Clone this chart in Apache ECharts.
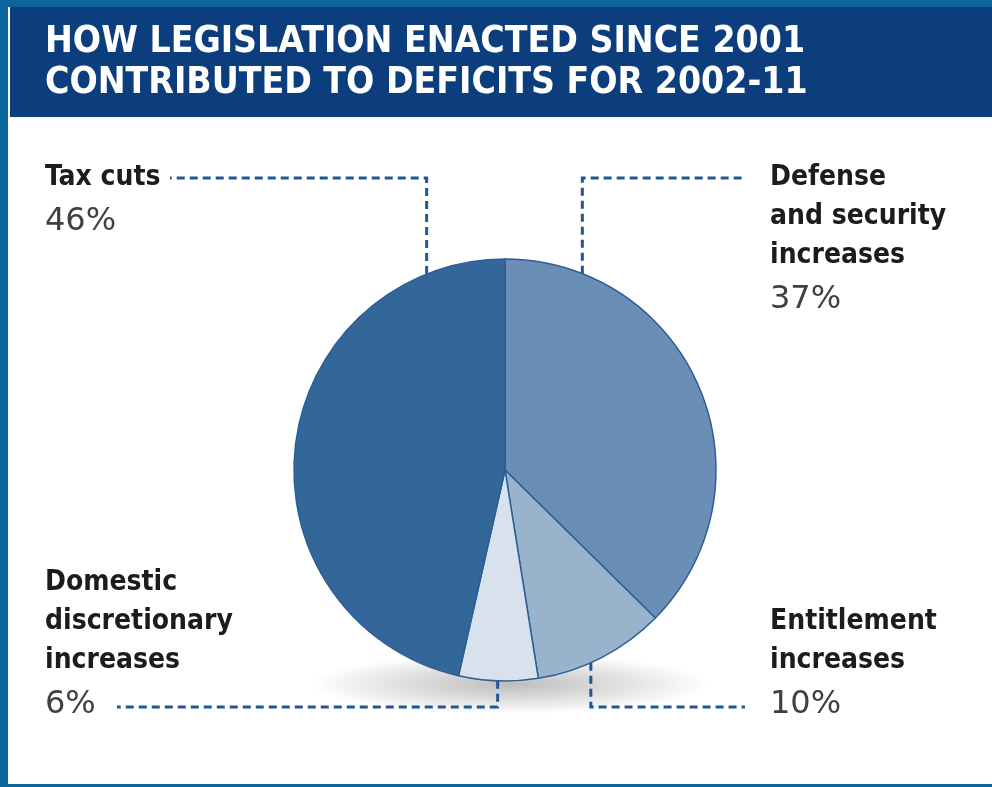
<!DOCTYPE html>
<html>
<head>
<meta charset="utf-8">
<script src="https://cdn.jsdelivr.net/npm/echarts@6/dist/echarts.min.js"></script>
<style>
  html, body { margin: 0; padding: 0; background: #fff; }
  #chart { width: 992px; height: 787px; }
</style>
</head>
<body>
<div id="chart"></div>
<script>
// Slices clockwise from 12 o'clock, as in the original graphic.
const categories = ['Defense\nand security\nincreases', 'Entitlement\nincreases', 'Domestic\ndiscretionary\nincreases', 'Tax cuts'];
const shares = [37, 10, 6, 46];
const sliceColors = ['#6a8eb6', '#9ab3cd', '#d8e2ed', '#336699'];

// Label placement and dashed leader routing (pixels / degrees clockwise from top).
const CX = 505, CY = 470, R = 211;
const labelPos = [[770, 158], [770, 602], [45, 563], [45, 158]];
const guideAngle = [21.5, 156, 182, 338.2];
const guideElbowY = [178, 707, 707, 178];
const guideEndX = [745, 745, 117, 170];

const FONT_COND = '"DejaVu Sans Condensed", "Liberation Sans Narrow", sans-serif';

const chart = echarts.init(document.getElementById('chart'));

function anchor(i) {
  const a = guideAngle[i] * Math.PI / 180;
  return [CX + R * Math.sin(a), CY - R * Math.cos(a)];
}

chart.setOption({
  backgroundColor: '#ffffff',
  animation: false,
  title: {
    text: 'HOW LEGISLATION ENACTED SINCE 2001\nCONTRIBUTED TO DEFICITS FOR 2002-11',
    left: 40,
    top: 17,
    textStyle: {
      color: '#ffffff',
      fontFamily: FONT_COND,
      fontWeight: 'bold',
      fontSize: 37,
      lineHeight: 41
    }
  },
  graphic: [
    { type: 'rect', z: 0, silent: true, shape: { x: 0, y: 0, width: 992, height: 787 }, style: { fill: '#0b669d' } },
    { type: 'rect', z: 0, silent: true, shape: { x: 8, y: 7, width: 984, height: 777 }, style: { fill: '#ffffff' } },
    { type: 'rect', z: 0, silent: true, shape: { x: 10, y: 7, width: 982, height: 110 }, style: { fill: '#0c3e7d' } },
    {
      type: 'circle', z: 0, silent: true,
      x: 510, y: 684, scaleY: 0.15,
      shape: { cx: 0, cy: 0, r: 200 },
      style: {
        fill: {
          type: 'radial', x: 0.5, y: 0.5, r: 0.5,
          colorStops: [
            { offset: 0, color: 'rgba(0,0,0,0.26)' },
            { offset: 0.55, color: 'rgba(0,0,0,0.12)' },
            { offset: 1, color: 'rgba(0,0,0,0)' }
          ]
        }
      }
    }
  ],
  series: [{
    type: 'pie',
    center: [CX, CY],
    radius: R,
    startAngle: 90,
    clockwise: true,
    avoidLabelOverlap: false,
    silent: true,
    data: categories.map((name, i) => ({
      name: name,
      value: shares[i],
      itemStyle: { color: sliceColors[i] }
    })),
    itemStyle: { borderColor: '#2d5e93', borderWidth: 1.5 },
    label: {
      show: true,
      position: 'outside',
      width: 240,
      overflow: 'none',
      formatter: (p) => p.name.split('\n').map(l => '{n|' + l + '}').join('\n') + '\n{p|' + p.value + '%}',
      rich: {
        n: { fontFamily: FONT_COND, fontWeight: 'bold', fontSize: 28, lineHeight: 39, color: '#1c1c1c' },
        p: { fontFamily: '"DejaVu Sans", sans-serif', fontSize: 32, lineHeight: 50, color: '#404040' }
      }
    },
    labelLine: {
      show: true,
      length: 10,
      length2: 10,
      lineStyle: { color: '#1f5797', width: 3, type: [8, 5] }
    },
    labelLayout: (params) => {
      const i = params.dataIndex;
      const a = anchor(i);
      return {
        x: labelPos[i][0],
        y: labelPos[i][1],
        align: 'left',
        verticalAlign: 'top',
        labelLinePoints: [a, [a[0], guideElbowY[i]], [guideEndX[i], guideElbowY[i]]]
      };
    }
  }]
});
</script>
</body>
</html>
